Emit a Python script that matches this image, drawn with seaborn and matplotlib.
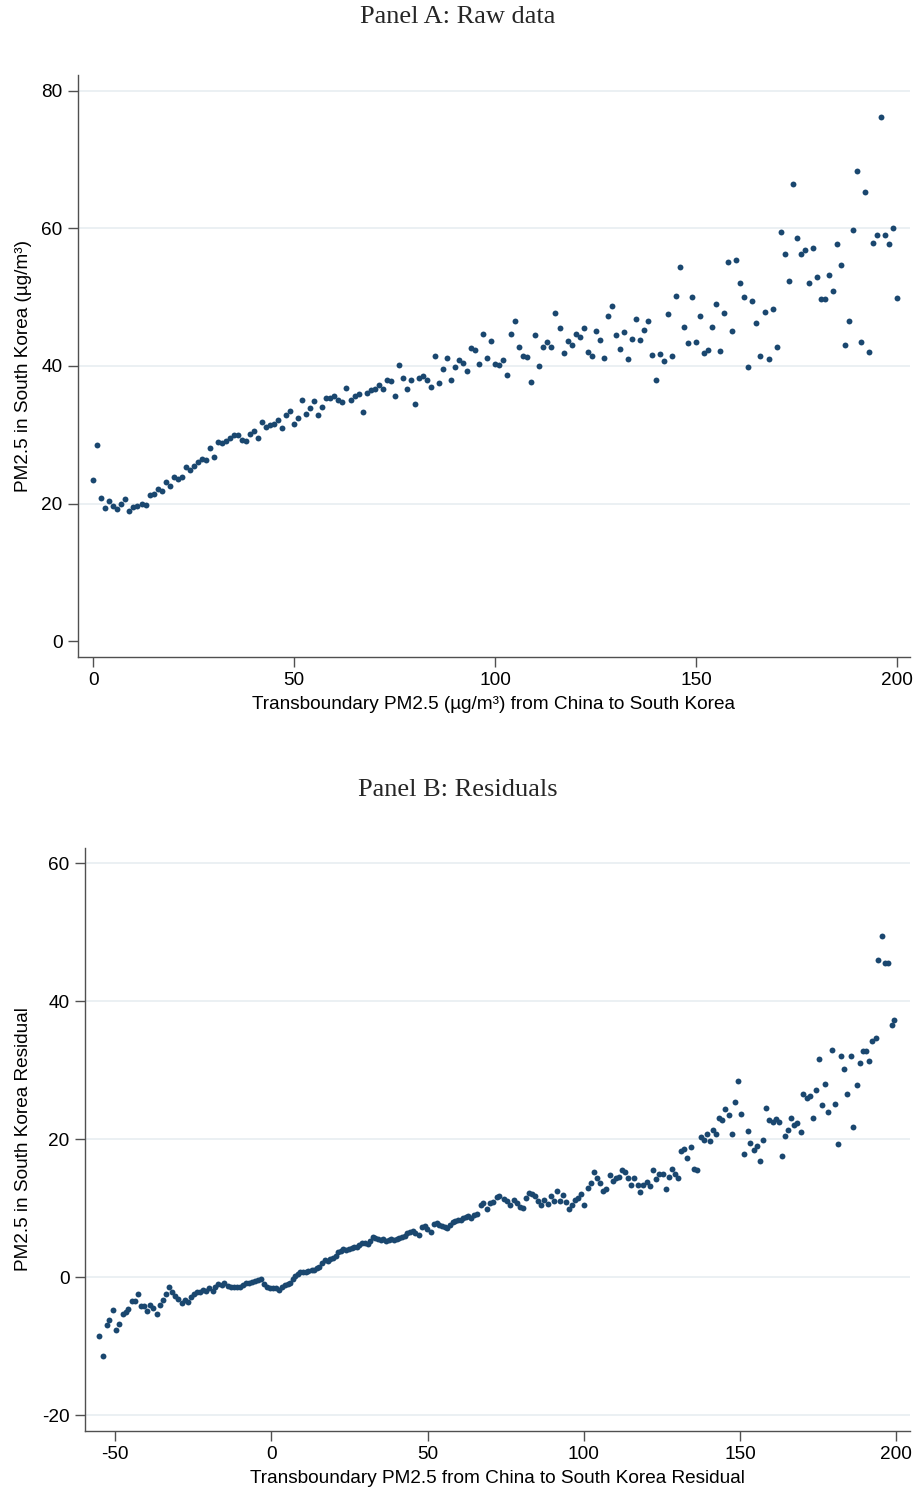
import numpy as np
import pandas as pd
import matplotlib
matplotlib.use("Agg")
import matplotlib.pyplot as plt
import seaborn as sns

# ---------------- Panel A: binned raw data ----------------
china_pm = np.arange(0, 201)  # transboundary PM2.5 bins (µg/m³)
korea_pm = [
    23.4, 28.5, 20.8, 19.4, 20.4, 19.7, 19.2, 19.9, 20.6, 18.9,
    19.5, 19.7, 20.0, 19.8, 21.2, 21.4, 22.1, 21.8, 23.1, 22.6,
    23.8, 23.6, 23.9, 25.3, 24.9, 25.5, 26.0, 26.5, 26.4, 28.1,
    26.8, 28.9, 28.8, 29.1, 29.5, 29.9, 30.0, 29.2, 29.1, 30.1,
    30.6, 29.6, 31.9, 31.1, 31.4, 31.6, 32.2, 31.0, 32.9, 33.5,
    31.5, 32.5, 35.0, 33.0, 33.9, 34.9, 32.9, 34.1, 35.4, 35.4,
    35.6, 35.0, 34.7, 36.8, 35.0, 35.6, 35.9, 33.3, 36.1, 36.5,
    36.7, 37.2, 36.7, 38.0, 37.8, 35.6, 40.1, 38.3, 36.6, 38.0,
    34.5, 38.3, 38.5, 38.0, 36.9, 41.5, 37.6, 39.6, 41.1, 38.0,
    39.9, 40.9, 40.4, 39.3, 42.6, 42.3, 40.3, 44.6, 41.1, 43.6,
    40.3, 40.1, 40.8, 38.7, 44.7, 46.5, 42.7, 41.5, 41.3, 37.7,
    44.5, 40.0, 42.8, 43.5, 42.7, 47.7, 45.5, 41.9, 43.7, 43.0,
    44.6, 44.2, 45.5, 42.0, 41.4, 45.1, 43.8, 41.2, 47.2, 48.7,
    44.5, 42.4, 45.0, 41.0, 43.9, 46.8, 43.8, 45.2, 46.5, 41.6,
    38.0, 41.8, 40.7, 47.6, 41.4, 50.2, 54.4, 45.6, 43.4, 50.1,
    43.5, 47.3, 41.9, 42.3, 45.7, 49.0, 42.2, 47.7, 55.1, 45.1,
    55.4, 52.1, 50.0, 39.9, 49.4, 46.2, 41.4, 47.8, 41.0, 48.3,
    42.8, 59.5, 56.3, 52.4, 66.4, 58.6, 56.3, 56.9, 52.0, 57.2,
    52.9, 49.7, 49.8, 53.2, 50.9, 57.7, 54.7, 43.1, 46.6, 59.7,
    68.4, 43.5, 65.3, 42.1, 57.9, 59.1, 76.2, 59.1, 57.8, 60.1,
    49.9,
]

# ---------------- Panel B: residualised data ----------------
china_resid = [
    -55.0, -53.7, -52.6, -51.8, -50.6, -49.6, -48.7, -47.6, -46.6, -45.7,
    -44.7, -43.7, -42.8, -41.8, -40.8, -39.7, -38.7, -37.7, -36.7, -35.7,
    -34.7, -33.7, -32.7, -31.7, -30.7, -29.7, -28.7, -27.7, -26.7, -25.7,
    -24.8, -23.8, -22.8, -21.8, -20.9, -19.9, -18.8, -17.9, -16.9, -15.9,
    -15.0, -13.9, -13.0, -12.0, -11.0, -10.1, -9.1, -8.1, -7.2, -6.2,
    -5.2, -4.3, -3.3, -2.3, -1.4, -0.4, 0.6, 1.5, 2.5, 3.5,
    4.4, 5.4,
    6.1, 6.9, 7.7, 8.4, 9.3, 10.1, 11.0, 11.9, 12.9, 13.7,
    14.6, 15.4, 16.3, 17.2, 18.0, 18.9, 19.7, 20.6, 21.4, 22.3,
    23.1, 24.0, 24.8, 25.7, 26.5, 27.4, 28.2, 29.1, 29.9, 30.8,
    31.6, 32.5, 33.3, 34.2, 35.0, 35.9, 36.7, 37.6, 38.4, 39.3,
    40.1, 41.0, 41.8, 42.7, 43.5, 44.4, 45.2, 46.1, 47.4, 48.2,
    49.1, 49.9, 51.2, 52.1, 52.9, 53.8, 54.6, 55.5, 56.3, 57.2,
    58.0, 58.9, 59.7, 60.6, 61.4, 62.3, 63.1, 64.0, 64.8, 65.7,
    67.0, 67.8, 69.1, 69.9, 70.8, 72.1, 72.9,
    74.6, 75.6, 76.5, 77.6, 78.6, 79.6, 80.4, 81.4, 82.5, 83.5,
    84.5, 85.3, 86.4, 87.4, 88.4, 89.4, 90.4, 91.3, 92.3, 93.4,
    94.3, 95.3, 96.3, 97.3, 98.3, 99.2, 100.2, 101.2, 102.3, 103.2,
    104.3, 105.3, 106.1, 107.1, 108.3, 109.2, 110.2, 111.2, 112.2, 113.2,
    114.2, 115.2, 116.1, 117.2, 118.1, 119.1, 120.2, 121.1, 122.2, 123.1,
    124.2, 125.3, 126.2, 127.2, 128.1, 129.2, 130.1, 131.0, 132.2, 133.1,
    134.2, 135.2, 136.1,
    137.5, 138.4, 139.3, 140.4, 141.3, 142.3, 143.4, 144.3, 145.3, 146.4,
    147.3, 148.3, 149.4, 150.3, 151.3, 152.4, 153.3, 154.4, 155.3, 156.3,
    157.3, 158.3, 159.2, 160.4, 161.5, 162.4, 163.4, 164.4, 165.4, 166.3,
    167.4, 168.3, 169.4, 170.3, 171.3, 172.4, 173.3, 174.4, 175.3, 176.4,
    177.3, 178.3, 179.4, 180.3, 181.3, 182.3, 183.4, 184.3, 185.4, 186.3,
    187.3, 188.4, 189.3, 190.3, 191.4, 192.3, 193.4, 194.3, 195.3, 196.3,
    197.3, 198.5, 199.4,
]
korea_resid = [
    -8.6, -11.4, -7.0, -6.2, -4.7, -7.6, -6.8, -5.3, -5.0, -4.6,
    -3.4, -3.5, -2.5, -4.2, -4.2, -4.9, -4.1, -4.4, -5.3, -4.0,
    -3.3, -2.5, -1.5, -2.2, -2.8, -3.1, -3.8, -3.3, -3.6, -2.9,
    -2.5, -2.1, -2.2, -1.8, -2.0, -1.6, -2.0, -1.4, -1.0, -1.2,
    -0.9, -1.3, -1.4, -1.4, -1.4, -1.5, -1.1, -0.9, -0.9, -0.7,
    -0.6, -0.4, -0.3, -1.0, -1.5, -1.6, -1.6, -1.6, -1.8, -1.4,
    -1.2, -1.0,
    -0.8, -0.2, 0.2, 0.5, 0.7, 0.8, 0.8, 0.9, 1.0, 1.0,
    1.3, 1.4, 2.0, 2.5, 2.3, 2.6, 2.8, 3.1, 3.6, 3.8,
    4.1, 4.0, 4.1, 4.2, 4.4, 4.4, 4.7, 4.9, 5.0, 4.8,
    5.3, 5.8, 5.7, 5.5, 5.4, 5.5, 5.3, 5.4, 5.5, 5.4,
    5.6, 5.7, 5.8, 6.0, 6.4, 6.6, 6.7, 6.4, 6.1, 7.2,
    7.4, 7.0, 6.6, 7.7, 7.8, 7.6, 7.4, 7.3, 7.1, 7.6,
    8.0, 8.2, 8.3, 8.3, 8.5, 8.7, 8.8, 8.5, 9.0, 9.2,
    10.5, 10.7, 9.9, 10.7, 10.9, 11.6, 11.8,
    11.3, 11.1, 10.4, 11.2, 10.8, 10.1, 10.0, 11.5, 12.2, 12.0,
    11.7, 11.0, 10.4, 11.2, 10.6, 11.7, 11.1, 12.5, 11.1, 11.9,
    10.9, 9.9, 10.4, 11.2, 11.4, 12.0, 10.4, 12.9, 13.6, 15.3,
    14.3, 13.6, 12.5, 12.8, 14.8, 14.0, 14.3, 14.5, 15.5, 15.3,
    14.3, 13.4, 14.3, 13.4, 12.3, 13.4, 13.8, 13.2, 15.6, 14.2,
    14.9, 14.9, 12.8, 14.5, 15.7, 14.9, 14.3, 18.3, 18.6, 17.3,
    18.9, 15.7, 15.6,
    20.3, 19.9, 20.8, 19.8, 21.3, 20.7, 23.0, 22.8, 24.4, 23.5,
    20.7, 25.4, 28.5, 23.6, 17.8, 21.2, 19.5, 18.4, 19.0, 16.8,
    19.9, 24.5, 22.8, 22.5, 22.9, 22.5, 17.6, 20.4, 21.3, 23.0,
    22.1, 22.4, 21.1, 26.5, 25.9, 26.2, 23.1, 27.1, 31.6, 24.9,
    28.0, 23.9, 32.9, 25.1, 19.3, 32.1, 30.1, 26.5, 32.1, 21.8,
    27.8, 31.0, 32.8, 32.8, 31.3, 34.2, 34.6, 45.9, 49.5, 45.5,
    45.6, 36.6, 37.3,
]

xticks_a = [0, 50, 100, 150, 200]
yticks_a = [0, 20, 40, 60, 80]
xticks_b = [-50, 0, 50, 100, 150, 200]
yticks_b = [-20, 0, 20, 40, 60]

raw_df = pd.DataFrame({"china": china_pm, "korea": korea_pm})
resid_df = pd.DataFrame({"china": china_resid, "korea": korea_resid})

sns.set_theme(style="white")
plt.rcParams["font.family"] = ["Liberation Sans", "DejaVu Sans"]
plt.rcParams["axes.unicode_minus"] = False

NAVY = "#1a476f"
AXIS = "#505050"
GRID = "#e8eef1"

W, H = 916, 1488
fig = plt.figure(figsize=(W / 100, H / 100), dpi=100)
fig.patch.set_facecolor("white")


def px_axes(left, top, right, bottom):
    return fig.add_axes([left / W, 1 - bottom / H, (right - left) / W, (bottom - top) / H])


def style(ax, xticks, yticks, grid_vals, xlim, ylim, xlabel, ylabel):
    ax.set_xlim(*xlim)
    ax.set_ylim(*ylim)
    ax.set_xticks(xticks)
    ax.set_yticks(yticks)
    ax.set_xticklabels([str(t) for t in xticks])
    ax.set_yticklabels([str(t) for t in yticks])
    for g in grid_vals:
        ax.axhline(g, color=GRID, lw=1.2, zorder=0)
    for s in ["top", "right"]:
        ax.spines[s].set_visible(False)
    for s in ["left", "bottom"]:
        ax.spines[s].set_color(AXIS)
        ax.spines[s].set_linewidth(1.0)
    ax.tick_params(axis="both", direction="out", length=7, width=1.0, color=AXIS,
                   labelsize=13.7, labelcolor="black", pad=4, left=True, bottom=True)
    ax.set_xlabel(xlabel, fontsize=13.7, color="black", labelpad=4.5)
    ax.set_ylabel(ylabel, fontsize=13.7, color="black", labelpad=7)
    ax.set_facecolor("white")


# Panel A
ax1 = px_axes(78, 75, 910, 657)
sns.scatterplot(data=raw_df, x="china", y="korea", ax=ax1, color=NAVY, s=18,
                linewidth=0, zorder=3)
style(ax1, xticks_a, yticks_a, [20, 40, 60, 80], (-3.8, 203.2), (-2.3, 82.3),
      "Transboundary PM2.5 (µg/m³) from China to South Korea",
      "PM2.5 in South Korea (µg/m³)")
fig.text(0.5, 1 - 17 / H, "Panel A: Raw data", ha="center", va="center",
         family=["Liberation Serif", "DejaVu Serif"], fontsize=19)

# Panel B
ax2 = px_axes(85, 848, 910, 1431)
sns.scatterplot(data=resid_df, x="china", y="korea", ax=ax2, color=NAVY, s=18,
                linewidth=0, zorder=3)
style(ax2, xticks_b, yticks_b, [-20, 0, 20, 40, 60], (-59.6, 204.4), (-22.3, 62.2),
      "Transboundary PM2.5 from China to South Korea Residual",
      "PM2.5 in South Korea Residual")
fig.text(0.5, 1 - 790 / H, "Panel B: Residuals", ha="center", va="center",
         family=["Liberation Serif", "DejaVu Serif"], fontsize=19)

fig.savefig("out.png", dpi=100, facecolor="white")
